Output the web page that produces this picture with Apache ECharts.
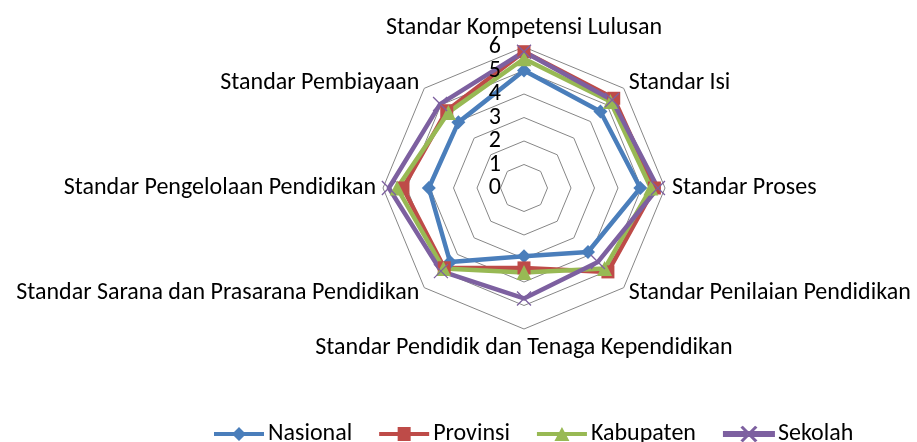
<!DOCTYPE html>
<html>
<head>
<meta charset="utf-8">
<script src="https://cdn.jsdelivr.net/npm/echarts@6/dist/echarts.min.js"></script>
<style>
html, body { margin: 0; padding: 0; background: #fff; }
#radar { width: 917px; height: 442px; }
</style>
</head>
<body>
<div id="radar"></div>
<script>
// indikator, searah jarum jam mulai dari atas (urutan seperti di Excel)
const standar = [
  'Standar Kompetensi Lulusan',
  'Standar Isi',
  'Standar Proses',
  'Standar Penilaian Pendidikan',
  'Standar Pendidik dan Tenaga Kependidikan',
  'Standar Sarana dan Prasarana Pendidikan',
  'Standar Pengelolaan Pendidikan',
  'Standar Pembiayaan'
]
const nasional = [5.0, 4.6, 4.95, 3.85, 2.9, 4.45, 4.05, 3.95]
const provinsi = [5.8, 5.4, 5.55, 5.05, 3.4, 4.8, 5.15, 4.65]
const kabupaten = [5.5, 5.2, 5.4, 4.85, 3.6, 4.85, 5.4, 4.55]
const sekolah = [5.8, 5.3, 5.7, 4.45, 4.7, 5.0, 5.75, 5.05]
const nilaiMax = 6
const fontTeks = 'Carlito, Lato, sans-serif'

// echarts menaruh indikator berlawanan arah jarum jam -> balik urutannya
function urut(arr) {
  return [arr[0]].concat(arr.slice(1).reverse())
}

// ikon legenda: garis + penanda (kotak 50x14)
const garis = 'M0,5L50,5L50,9L0,9Z'
const ikon = {
  Nasional: 'path://' + garis + 'M25,0L32,7L25,14L18,7Z',
  Provinsi: 'path://' + garis + 'M18.5,0L31.5,0L31.5,14L18.5,14Z',
  Kabupaten: 'path://' + garis + 'M25,0L32.5,14L17.5,14Z',
  Sekolah: 'path://' + garis + 'M18,0.6L18.8,0L32,13.4L31.2,14ZM32,0.6L31.2,0L18,13.4L18.8,14Z'
}

function seri(nama, nilai, warna, simbol, ukuran) {
  return {
    name: nama,
    value: urut(nilai),
    symbol: simbol,
    symbolSize: ukuran,
    lineStyle: { color: warna, width: 4.5 },
    itemStyle: { color: warna, borderColor: warna, borderWidth: simbol.indexOf('path') === 0 ? 1.3 : 0 }
  }
}

const dasarRadar = {
  center: [524, 188],
  radius: 141,
  startAngle: 90,
  shape: 'polygon',
  splitNumber: 6,
  nameGap: 7,
  axisLine: { show: false },
  axisTick: { show: false },
  axisLabel: { show: false },
  splitArea: { show: false }
}

// label 0..6 dibagi dua radar (genap / ganjil) supaya echarts tidak
// menyembunyikan label yang dianggap bertumpuk; digambar di atas garis
function radarLabel(genap) {
  return Object.assign({}, dasarRadar, {
    z: 3,
    axisName: { show: false },
    splitLine: { show: false },
    indicator: urut(standar).map((s, i) => {
      const ind = { name: s, min: 0, max: nilaiMax }
      if (i === 0) {
        ind.axisLabel = {
          show: true, color: '#000', fontSize: 24, fontFamily: fontTeks, margin: 23,
          showMinLabel: genap, showMaxLabel: genap,
          formatter: v => (v % 2 === 0) === genap ? String(v) : ''
        }
      }
      return ind
    })
  })
}

const myChart = echarts.init(document.getElementById('radar'), null, { renderer: 'canvas' })
const option = {
  animation: false,
  textStyle: { fontFamily: fontTeks },
  legend: {
    left: 209,
    top: 417,
    itemWidth: 50,
    itemHeight: 14,
    itemGap: 27,
    textStyle: { fontSize: 24, color: '#000', fontFamily: fontTeks, padding: [0, 0, 0, -1] },
    data: ['Nasional', 'Provinsi', 'Kabupaten', 'Sekolah'].map(n => ({ name: n, icon: ikon[n] }))
  },
  radar: [
    Object.assign({}, dasarRadar, {
      axisName: { color: '#000', fontSize: 24, fontFamily: fontTeks },
      splitLine: { lineStyle: { color: '#868686', width: 1 } },
      indicator: urut(standar).map(s => ({ name: s, min: 0, max: nilaiMax }))
    }),
    radarLabel(true),
    radarLabel(false)
  ],
  series: [{
    type: 'radar',
    radarIndex: 0,
    data: [
      seri('Nasional', nasional, '#4A7EBB', 'diamond', 14),
      seri('Provinsi', provinsi, '#BE4B48', 'rect', 13),
      seri('Kabupaten', kabupaten, '#98B954', 'triangle', 15),
      seri('Sekolah', sekolah, '#7D60A0', 'path://M0,0L10,10M10,0L0,10', 14)
    ]
  }]
}
myChart.setOption(option)
</script>
</body>
</html>
